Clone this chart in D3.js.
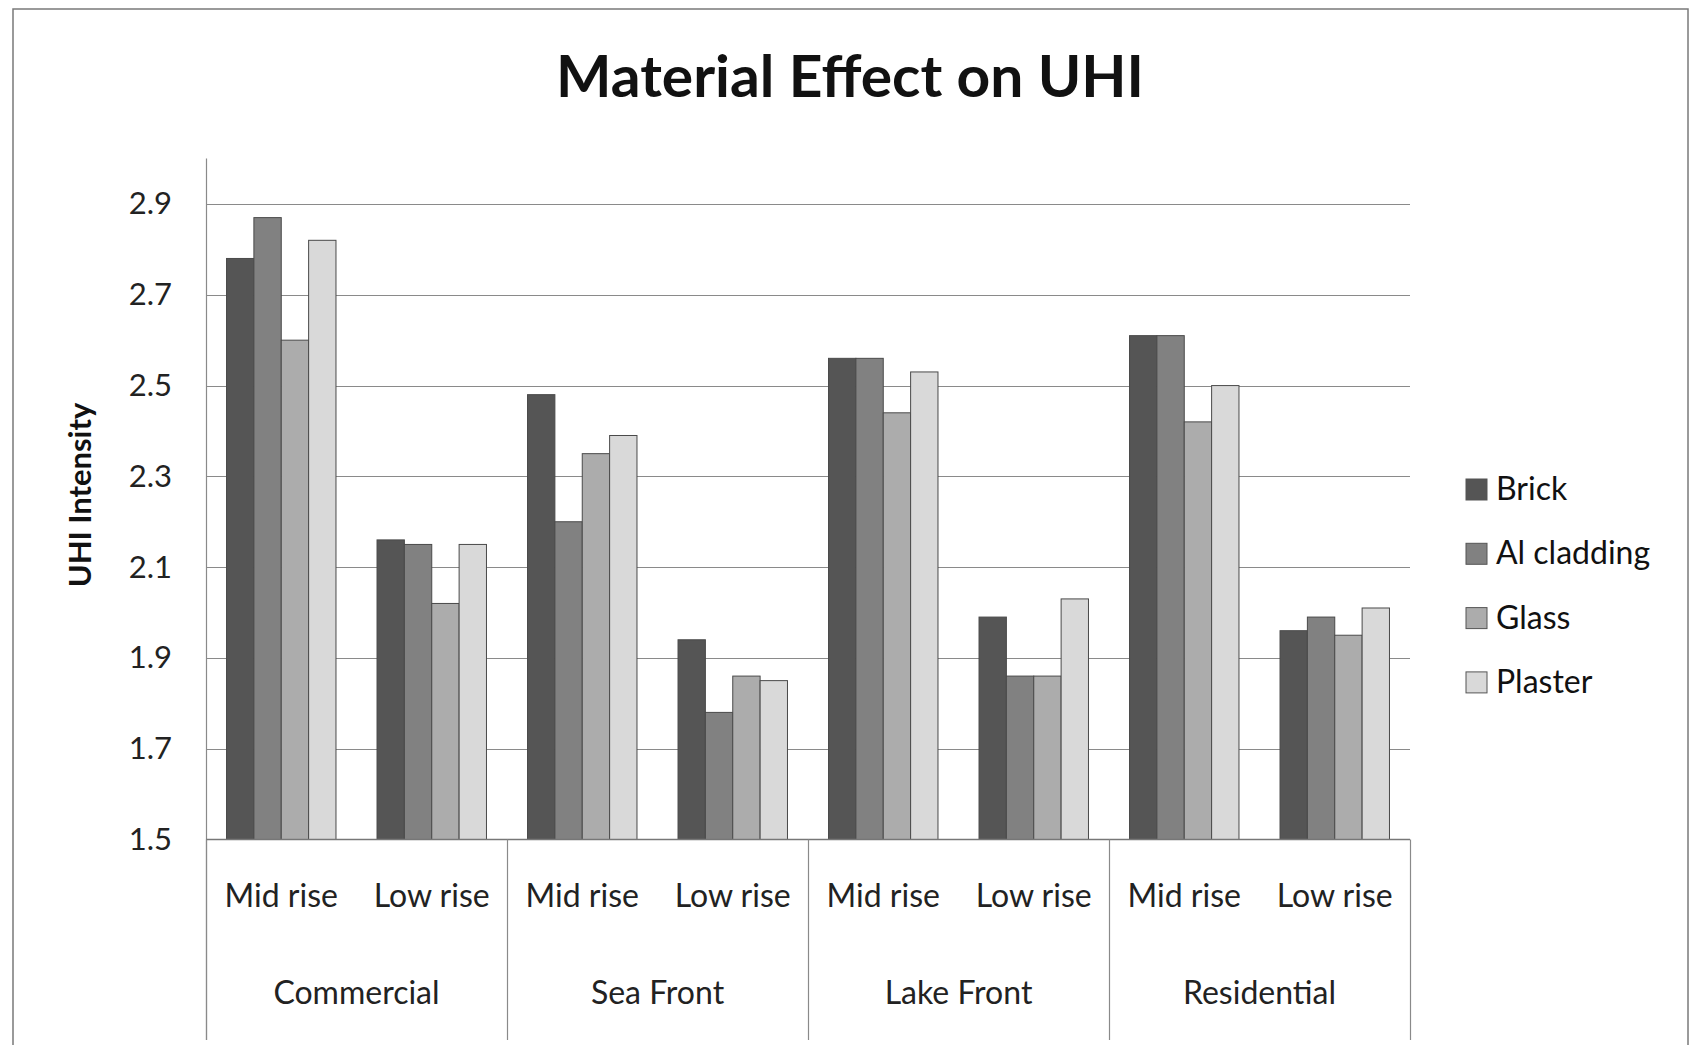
<!DOCTYPE html>
<html><head><meta charset="utf-8">
<script src="https://cdn.jsdelivr.net/npm/d3@7"></script>
<style>html,body{margin:0;padding:0;background:#fff;}svg{display:block;}</style>
</head><body>
<svg id="chart" width="1692" height="1045"></svg>
<script>
const groups = ["Commercial", "Sea Front", "Lake Front", "Residential"];
const subcats = ["Mid rise", "Low rise"];
const series = ["Brick", "Al cladding", "Glass", "Plaster"];
const brick   = [2.78, 2.16, 2.48, 1.94, 2.56, 1.99, 2.61, 1.96];
const alclad  = [2.87, 2.15, 2.20, 1.78, 2.56, 1.86, 2.61, 1.99];
const glass   = [2.60, 2.02, 2.35, 1.86, 2.44, 1.86, 2.42, 1.95];
const plaster = [2.82, 2.15, 2.39, 1.85, 2.53, 2.03, 2.50, 2.01];
const yTicks = [1.5, 1.7, 1.9, 2.1, 2.3, 2.5, 2.7, 2.9];
const colors = ["#555555", "#818181", "#acacac", "#d9d9d9"];

(function () {
const values = [brick, alclad, glass, plaster];
const svg = d3.select("#chart");
const font = "Lato, 'Open Sans', sans-serif";
const pLeft = 206, pRight = 1410, pTop = 158.6, pBottom = 839.5, catBottom = 1040;

// outer frame
svg.append("rect").attr("x", 13).attr("y", 9).attr("width", 1675).attr("height", 1060)
  .attr("fill", "#fff").attr("stroke", "#7a7a7a").attr("stroke-width", 1.5);

const slots = [];
groups.forEach((g, gi) => subcats.forEach((s, si) => slots.push({g, s, key: gi + "-" + si})));

const x = d3.scaleBand().domain(slots.map(d => d.key)).range([pLeft, pRight]).padding(0);
const y = d3.scaleLinear().domain([1.5, 3.0]).range([pBottom, pTop]);
const barW = x.bandwidth() / 5.5;
const xs = d3.scaleBand().domain(series).range([0.75 * barW, 4.75 * barW]).padding(0);

// gridlines
svg.append("g").selectAll("line").data(yTicks.slice(1)).join("line")
  .attr("x1", pLeft).attr("x2", pRight)
  .attr("y1", d => Math.round(y(d)) + 0.5).attr("y2", d => Math.round(y(d)) + 0.5)
  .attr("stroke", "#8a8a8a").attr("stroke-width", 1.2);

// y axis
const yAxis = d3.axisLeft(y).tickValues(yTicks).tickFormat(d3.format(".1f")).tickSize(0).tickPadding(34);
const gy = svg.append("g").attr("transform", `translate(${pLeft},0)`).call(yAxis);
gy.select(".domain").remove();
gy.selectAll("text").attr("font-family", font).attr("font-size", 31).attr("fill", "#222");
svg.append("line").attr("x1", pLeft + 0.5).attr("x2", pLeft + 0.5).attr("y1", pTop).attr("y2", catBottom)
  .attr("stroke", "#8a8a8a").attr("stroke-width", 1.2);

// bars
const bars = [];
series.forEach((s, si) => slots.forEach((sl, i) => bars.push({s, si, key: sl.key, v: values[si][i]})));
svg.append("g").selectAll("rect").data(bars).join("rect")
  .attr("x", d => x(d.key) + xs(d.s))
  .attr("width", xs.bandwidth())
  .attr("y", d => y(d.v))
  .attr("height", d => y(1.5) - y(d.v))
  .attr("fill", d => colors[d.si])
  .attr("stroke", "#4a4a4a").attr("stroke-width", 1);

// x axis baseline
svg.append("line").attr("x1", pLeft).attr("x2", pRight).attr("y1", pBottom).attr("y2", pBottom)
  .attr("stroke", "#777").attr("stroke-width", 1.5);

// group separators
const seps = groups.map((g, gi) => x(gi + "-0")).concat([pRight]);
svg.append("g").selectAll("line").data(seps).join("line")
  .attr("x1", d => d + 0.5).attr("x2", d => d + 0.5).attr("y1", pBottom).attr("y2", catBottom)
  .attr("stroke", "#8a8a8a").attr("stroke-width", 1.2);

// sub labels
svg.append("g").selectAll("text").data(slots).join("text")
  .attr("x", d => x(d.key) + x.bandwidth() / 2).attr("y", 907)
  .attr("text-anchor", "middle").attr("font-family", font).attr("font-size", 32).attr("fill", "#222")
  .text(d => d.s);

// group labels
svg.append("g").selectAll("text").data(groups).join("text")
  .attr("x", (d, gi) => x(gi + "-0") + x.bandwidth()).attr("y", 1004)
  .attr("text-anchor", "middle").attr("font-family", font).attr("font-size", 32).attr("fill", "#222")
  .text(d => d);

// title
svg.append("text").attr("x", 850).attr("y", 97).attr("text-anchor", "middle")
  .attr("font-family", font).attr("font-weight", "bold").attr("font-size", 58).attr("fill", "#111")
  .attr("textLength", 588).attr("lengthAdjust", "spacingAndGlyphs")
  .text("Material Effect on UHI");

// y title
svg.append("text").attr("transform", "translate(91,495) rotate(-90)").attr("text-anchor", "middle")
  .attr("font-family", font).attr("font-weight", "bold").attr("font-size", 31).attr("fill", "#111")
  .text("UHI Intensity");

// legend
const lg = svg.append("g").selectAll("g").data(series).join("g")
  .attr("transform", (d, i) => `translate(1466,${479 + i * 64.3})`);
lg.append("rect").attr("width", 21).attr("height", 21).attr("fill", (d, i) => colors[i])
  .attr("stroke", "#555").attr("stroke-width", 1);
lg.append("text").attr("x", 30).attr("y", 21).attr("font-family", font).attr("font-size", 32)
  .attr("fill", "#111").text(d => d);
})();
</script>
</body></html>
